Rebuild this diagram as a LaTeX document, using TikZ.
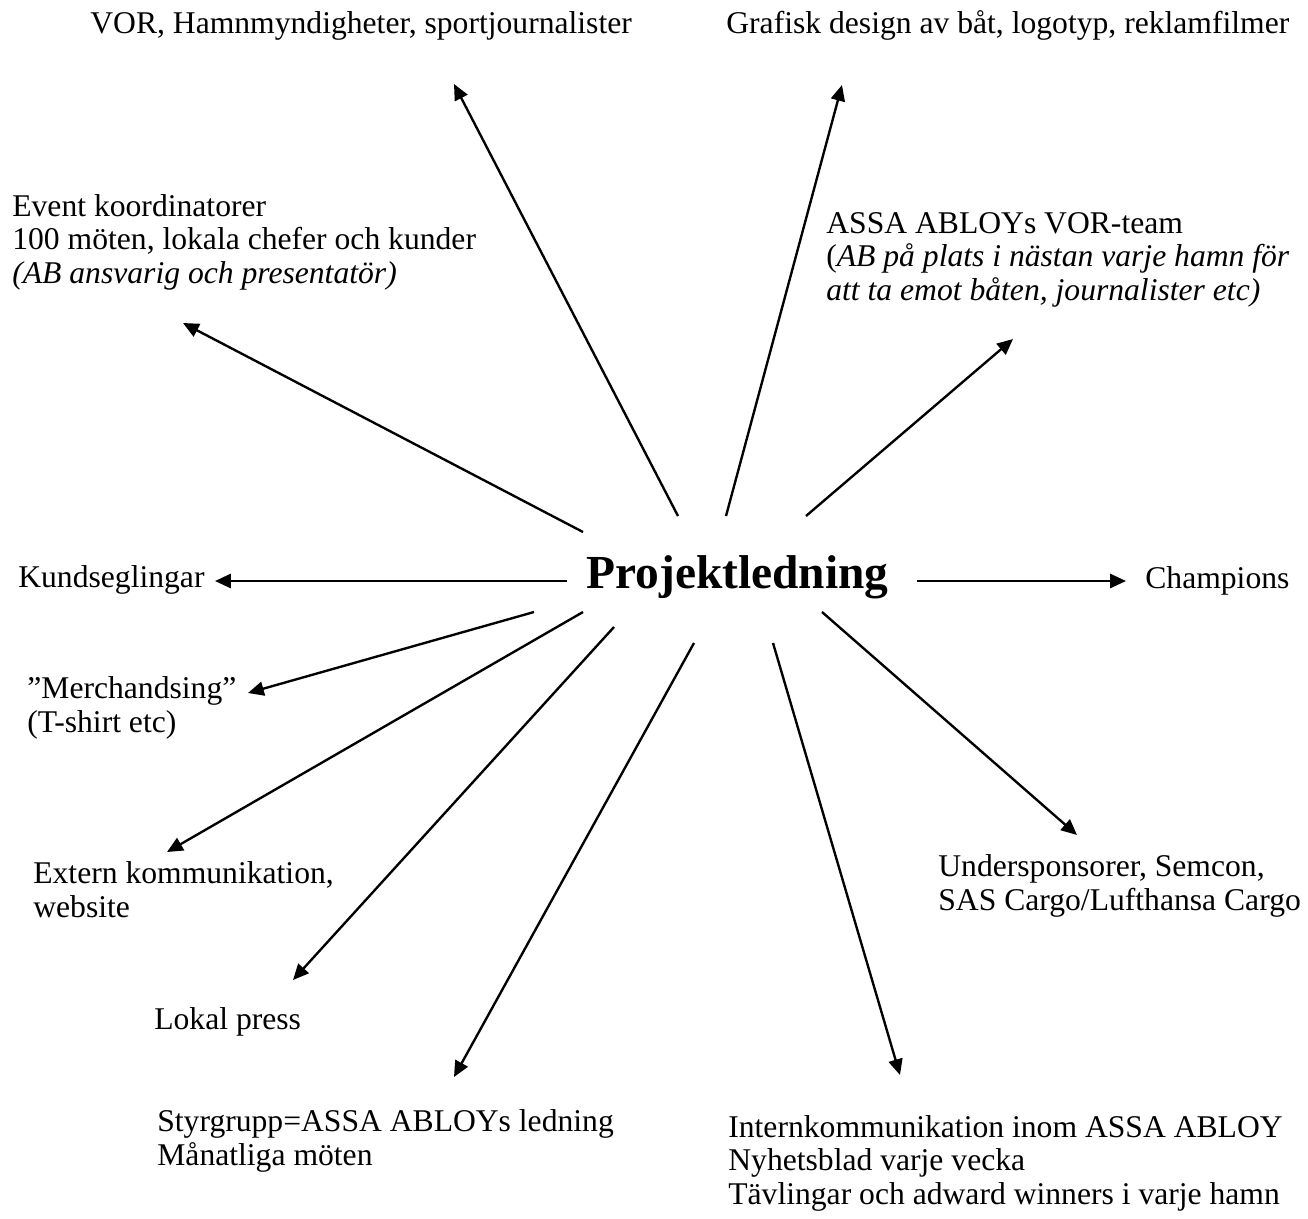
\documentclass[tikz,border=0pt]{standalone}
\usepackage{fontspec}
\setmainfont{Liberation Serif}
\usetikzlibrary{arrows.meta}

\begin{document}
\begin{tikzpicture}[x=0.02cm, y=-0.02cm,
    lbl/.style={anchor=base west, align=left, inner sep=0pt, font=\fontsize{18}{19}\selectfont},
    hub/.style={anchor=base west, inner sep=0pt, font=\fontsize{27}{32}\selectfont\bfseries},
    arr/.style={-{Triangle[length=9pt,width=8pt]}, line width=1.35pt}]
    \useasboundingbox (0,0) rectangle (1308,1218);

    % Nodes (multi-line labels sit on their last baseline)
    \node[hub] (pl) at (586,588) {Projektledning};
    \node[lbl] (vor) at (90,33) {VOR, Hamnmyndigheter, sportjournalister};
    \node[lbl] (graf) at (726,33) {Grafisk design av båt, logotyp, reklamfilmer};
    \node[lbl] (event) at (12,283) {Event koordinatorer\\100 möten, lokala chefer och kunder\\\textit{(AB ansvarig och presentatör)}};
    \node[lbl] (team) at (826,300) {ASSA ABLOYs VOR-team\\(\textit{AB på plats i nästan varje hamn för}\\\textit{att ta emot båten, journalister etc)}};
    \node[lbl] (kund) at (18,587) {Kundseglingar};
    \node[lbl] (champ) at (1145,588) {Champions};
    \node[lbl] (merch) at (27,732) {”Merchandsing”\\(T-shirt etc)};
    \node[lbl] (ext) at (33,917) {Extern kommunikation,\\website};
    \node[lbl] (lokal) at (154,1029) {Lokal press};
    \node[lbl] (under) at (938,910) {Undersponsorer, Semcon,\\SAS Cargo/Lufthansa Cargo};
    \node[lbl] (styr) at (157,1165) {Styrgrupp=ASSA ABLOYs ledning\\Månatliga möten};
    \node[lbl] (intern) at (728,1204) {Internkommunikation inom ASSA ABLOY\\Nyhetsblad varje vecka\\Tävlingar och adward winners i varje hamn};

    % Arrow ends
    \coordinate (vor-s) at (678,516);    \coordinate (vor-t) at (454,84);
    \coordinate (graf-s) at (726,516);   \coordinate (graf-t) at (842,85);
    \coordinate (team-s) at (806,516);   \coordinate (team-t) at (1013,339);
    \coordinate (event-s) at (583,532);  \coordinate (event-t) at (183,323);
    \coordinate (kund-s) at (567,581);   \coordinate (kund-t) at (215,581);
    \coordinate (champ-s) at (917,581);  \coordinate (champ-t) at (1126,581);
    \coordinate (merch-s) at (534,612);  \coordinate (merch-t) at (248,693);
    \coordinate (ext-s) at (583,612);    \coordinate (ext-t) at (167,852);
    \coordinate (lokal-s) at (614,627);  \coordinate (lokal-t) at (293,980);
    \coordinate (styr-s) at (694,643);   \coordinate (styr-t) at (454,1077);
    \coordinate (intern-s) at (773,643); \coordinate (intern-t) at (900,1075);
    \coordinate (under-s) at (822,612);  \coordinate (under-t) at (1077,835);

    % Arrows
    \draw[arr] (vor-s) -- (vor-t);
    \draw[arr] (graf-s) -- (graf-t);
    \draw[arr] (team-s) -- (team-t);
    \draw[arr] (event-s) -- (event-t);
    \draw[arr] (kund-s) -- (kund-t);
    \draw[arr] (champ-s) -- (champ-t);
    \draw[arr] (merch-s) -- (merch-t);
    \draw[arr] (ext-s) -- (ext-t);
    \draw[arr] (lokal-s) -- (lokal-t);
    \draw[arr] (styr-s) -- (styr-t);
    \draw[arr] (intern-s) -- (intern-t);
    \draw[arr] (under-s) -- (under-t);
\end{tikzpicture}
\end{document}
